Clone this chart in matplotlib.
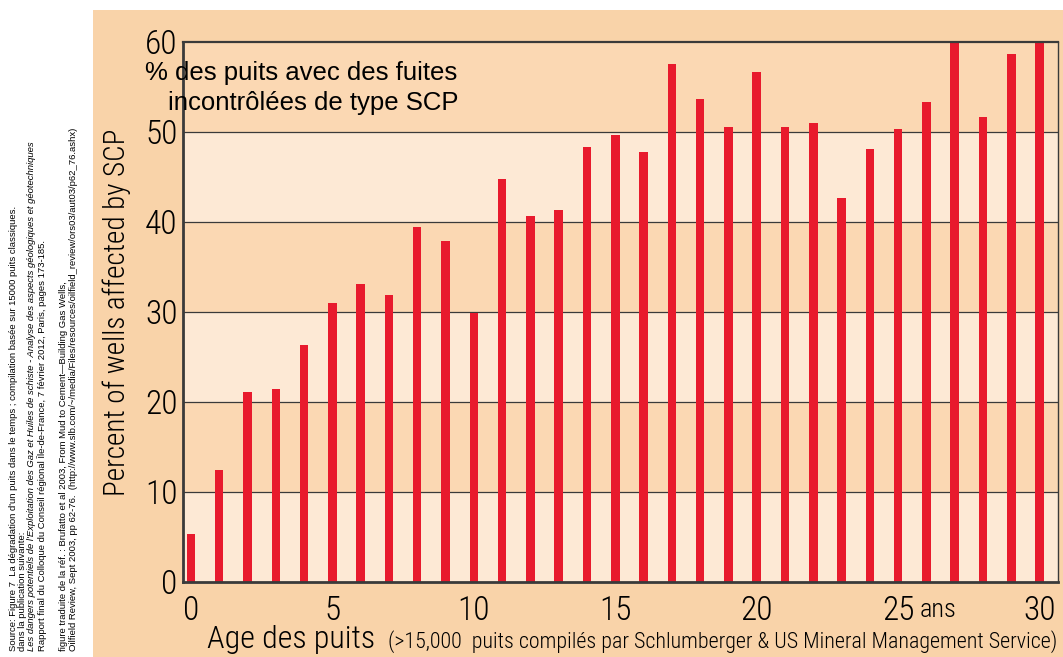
import matplotlib
matplotlib.use("Agg")
import matplotlib.pyplot as plt
import matplotlib.transforms as mtransforms
from matplotlib.patches import Rectangle

# ─── Data ─────────────────────────────────────────────────────────────────────
ages = list(range(31))
pct_scp = [5.3, 12.5, 21.1, 21.5, 26.3, 31.0, 33.1, 31.9, 39.4, 37.9,
           29.9, 44.8, 40.7, 41.3, 48.3, 49.7, 47.8, 57.6, 53.7, 50.6,
           56.7, 50.6, 51.0, 42.7, 48.1, 50.3, 53.3, 60.0, 51.7, 58.7, 60.0]
x_ticks = [0, 5, 10, 15, 20, 25, 30]
y_ticks = [0, 10, 20, 30, 40, 50, 60]

source_lines = [
    "Source: Figure 7  La dégradation d'un puits dans le temps ; compilation basée sur 15000 puits classiques.",
    "dans la publication suivante:",
    "Les dangers potentiels de l'Exploitation des Gaz et Huiles de schiste - Analyse des aspects géologiques et géotechniques",
    "Rapport final du Colloque du Conseil régional Île-de-France, 7 février 2012, Paris, pages 173-185.",
    "figure traduite de la réf. : Brufatto et al 2003, From Mud to Cement\u2014Building Gas Wells,",
    "Oilfield Review, Sept 2003, pp 62-76.  (http://www.slb.com/~/media/Files/resources/oilfield_review/ors03/aut03/p62_76.ashx)",
]

# ─── Style ────────────────────────────────────────────────────────────────────
PANEL  = "#f9d3a9"
DARK   = "#fbd8b3"
LIGHT  = "#fde9d5"
RED    = "#e81a2d"
LINE   = "#3a3a3a"
NARROW = ["Roboto Condensed", "DejaVu Sans"]
SANS   = ["Liberation Sans", "DejaVu Sans"]

W, H = 1063, 657
fig = plt.figure(figsize=(W / 100, H / 100), dpi=100)
fig.patch.set_facecolor("white")

# peach panel behind the chart
fig.patches.append(Rectangle((93 / W, 0), 1 - 93 / W, 1 - 10 / H,
                             transform=fig.transFigure, facecolor=PANEL,
                             edgecolor="none", zorder=-5))

ax = fig.add_axes([183 / W, 1 - 582 / H, (1058 - 183) / W, 540 / H])
ax.set_zorder(1)
ax.set_facecolor(LIGHT)
for i, lo in enumerate(y_ticks[:-1]):
    ax.axhspan(lo, lo + 10, color=LIGHT if i % 2 == 0 else DARK, zorder=0, lw=0)
for y in y_ticks[1:-1]:
    ax.axhline(y, color=LINE, lw=0.9, zorder=1)

ax.bar(ages, pct_scp, width=0.3, color=RED, zorder=2)

ax.set_xlim(-0.28, 30.65)
ax.set_ylim(0, 60)
ax.set_xticks(x_ticks)
ax.set_yticks(y_ticks)
ax.tick_params(length=0, labelsize=24, pad=4)
ax.tick_params(axis="x", pad=9)
for lab in ax.get_xticklabels() + ax.get_yticklabels():
    lab.set_family(NARROW)
    lab.set_fontweight(300)

for side, lw in (("left", 2.0), ("bottom", 2.0), ("top", 1.6), ("right", 1.0)):
    ax.spines[side].set_color(LINE)
    ax.spines[side].set_linewidth(lw)

ax.set_ylabel("Percent of wells affected by SCP", family=NARROW, fontsize=21,
              fontweight=300, labelpad=10)

# "ans" next to the 25 tick
trans = mtransforms.blended_transform_factory(ax.transData, ax.transAxes)
ax.text(25.75, -0.052, "ans", transform=trans, family=NARROW, fontsize=19,
        fontweight=300, ha="left", va="center")

# title inside the plot
fig.text(145 / W, 1 - 80 / H, "% des puits avec des fuites", family=SANS,
         fontsize=18.5, va="baseline", zorder=3)
fig.text(168 / W, 1 - 110 / H, "incontrôlées de type SCP", family=SANS,
         fontsize=18.5, va="baseline", zorder=3)

# x axis caption
fig.text(207 / W, 1 - 648 / H, "Age des puits", family=NARROW, fontsize=23,
         fontweight=300, va="baseline")
fig.text(388 / W, 1 - 648 / H,
         "(>15,000  puits compilés par Schlumberger & US Mineral Management Service)",
         family=NARROW, fontsize=15.8, fontweight=300, va="baseline")

# rotated source notes on the left
xs = [13, 22, 32, 42, 63, 73]
for x, line in zip(xs, source_lines):
    style = "italic" if line.startswith("Les dangers") else "normal"
    fig.text(x / W, 6 / H, line, rotation=90, rotation_mode="anchor",
             ha="left", va="center", family=SANS, fontsize=6.8, style=style)

fig.savefig("out.png", dpi=100, facecolor="white")
